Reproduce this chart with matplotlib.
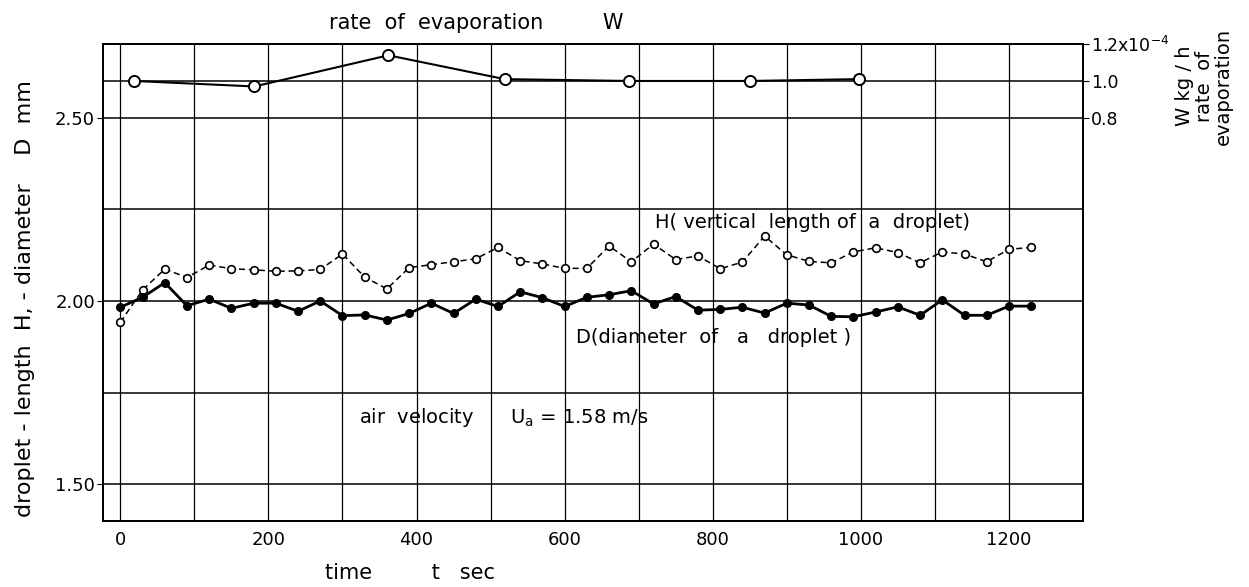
import matplotlib
matplotlib.use("Agg")
import matplotlib.pyplot as plt
import numpy as np

plt.rcParams['font.family'] = ['DejaVu Sans']
plt.rcParams['mathtext.fontset'] = 'dejavusans'

# ---- data ----
t_hd = [0, 30, 60, 90, 120, 150, 180, 210, 240, 270, 300, 330, 360, 390,
        420, 450, 480, 510, 540, 570, 600, 630, 660, 690, 720, 750, 780, 810,
        840, 870, 900, 930, 960, 990, 1020, 1050, 1080, 1110, 1140, 1170, 1200, 1230]
H_vals = [1.942, 2.030, 2.087, 2.064, 2.098, 2.088, 2.085, 2.081, 2.082, 2.086,
          2.128, 2.065, 2.033, 2.091, 2.099, 2.107, 2.115, 2.146, 2.110, 2.101,
          2.089, 2.089, 2.150, 2.107, 2.155, 2.113, 2.123, 2.088, 2.106, 2.177,
          2.126, 2.108, 2.104, 2.134, 2.145, 2.132, 2.104, 2.134, 2.128, 2.107,
          2.141, 2.146]
D_vals = [1.983, 2.010, 2.050, 1.987, 2.005, 1.980, 1.994, 1.994, 1.972, 2.000,
          1.960, 1.962, 1.948, 1.966, 1.994, 1.966, 2.005, 1.985, 2.025, 2.009,
          1.985, 2.010, 2.017, 2.028, 1.992, 2.012, 1.975, 1.977, 1.983, 1.967,
          1.994, 1.989, 1.958, 1.957, 1.970, 1.984, 1.961, 2.003, 1.961, 1.961,
          1.986, 1.986]
t_w = [19, 181, 362, 519, 687, 850, 997]
W_vals = [1.00, 0.97, 1.14, 1.01, 1.00, 1.00, 1.01]

x_ticks = [0, 200, 400, 600, 800, 1000, 1200]
x_grid = list(range(0, 1201, 100))
y_ticks = [1.50, 2.00, 2.50]
y_tick_labels = ["1.50", "2.00", "2.50"]
y_grid = [1.50, 1.75, 2.00, 2.25, 2.50]
w_ticks = [0.8, 1.0, 1.2]
w_tick_labels = ["0.8", "1.0", r"1.2x$\mathregular{10^{-4}}$"]

W_px, H_px = 1249, 587
fig = plt.figure(figsize=(W_px / 100, H_px / 100), dpi=100)
ax = fig.add_axes([103.3 / W_px, 1 - 521 / H_px, (1083 - 103.3) / W_px, (521 - 44.3) / H_px])

ylo, yhi = 1.40, 2.70
ax.set_xlim(-23, 1300)
ax.set_ylim(ylo, yhi)

# grid
for g in x_grid:
    ax.axvline(g, color='black', lw=0.9, zorder=1)
for g in y_grid:
    ax.axhline(g, color='black', lw=1.1, zorder=1)

# twin axis for W: 0.8 <-> 2.50, 1.0 <-> 2.60, 1.2 <-> 2.70
ax2 = ax.twinx()
ax2.set_ylim(0.8 + (ylo - 2.5) * 2, 0.8 + (yhi - 2.5) * 2)
ax2.axhline(1.0, color='black', lw=1.1, zorder=1)

ax.plot(t_hd, H_vals, color='black', lw=1.1, ls=(0, (4, 2.5)), marker='o',
        ms=5.5, mfc='white', mec='black', mew=1.2, zorder=3)
ax.plot(t_hd, D_vals, color='black', lw=2.0, ls='-', marker='o',
        ms=5.5, mfc='black', mec='black', zorder=3)
ax2.plot(t_w, W_vals, color='black', lw=1.5, marker='o', ms=8,
         mfc='white', mec='black', mew=1.4, zorder=3)

for a in (ax, ax2):
    for s in a.spines.values():
        s.set_linewidth(1.3)

ax.set_xticks(x_ticks)
ax.set_xticklabels([str(v) for v in x_ticks], fontsize=13)
ax.set_yticks(y_ticks)
ax.set_yticklabels(y_tick_labels, fontsize=13)
ax.tick_params(axis='x', length=0, pad=7)
ax.tick_params(axis='y', length=4, pad=2)
ax2.set_yticks(w_ticks)
ax2.set_yticklabels(w_tick_labels, fontsize=12.5)
ax2.tick_params(axis='y', length=4, pad=2)

# labels
fig.text(410 / W_px, 1 - 573 / H_px, "time         t   sec", fontsize=15,
         ha='center', va='center')
fig.text(25 / W_px, 1 - 299 / H_px, "droplet - length  H, - diameter    D  mm",
         fontsize=16, rotation=90, ha='center', va='center')
fig.text(476 / W_px, 1 - 23 / H_px, "rate  of  evaporation         W", fontsize=15,
         ha='center', va='center')
for xx, s in [(1184, "W kg / h"), (1204, "rate  of"), (1223, "evaporation")]:
    fig.text(xx / W_px, 1 - 86 / H_px, s, fontsize=14, rotation=90,
             ha='center', va='center')

# in-plot annotations
ax.text(722, 2.215, "H( vertical  length of  a  droplet)", fontsize=14,
        ha='left', va='center')
ax.text(616, 1.90, "D(diameter  of   a   droplet )", fontsize=14,
        ha='left', va='center')
ax.text(322, 1.681, r"air  velocity      $\mathregular{U_a}$ = 1.58 m/s", fontsize=14,
        ha='left', va='center')

fig.savefig("out.png", dpi=100)
